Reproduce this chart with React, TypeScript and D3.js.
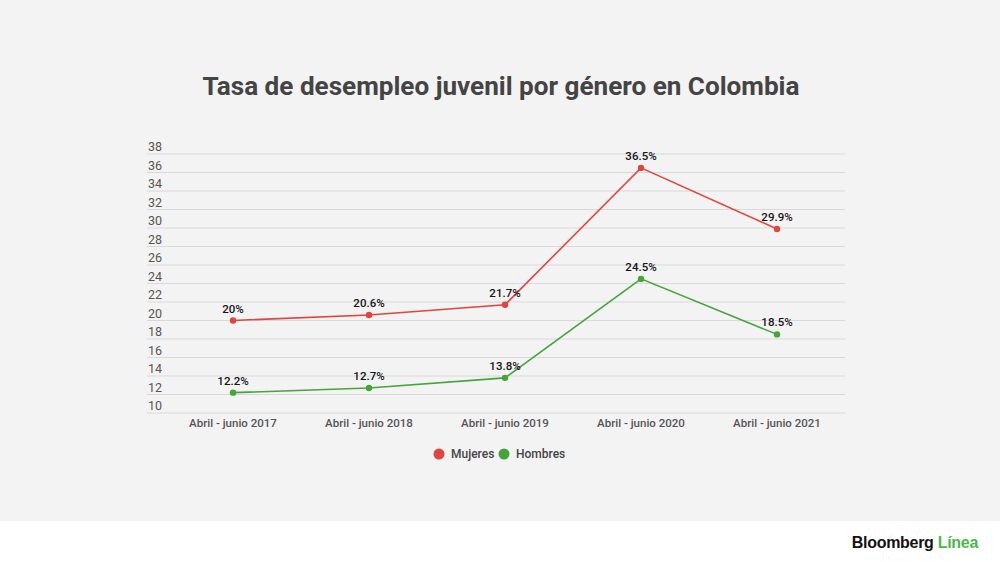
import React from "react";
import * as d3 from "d3";

const periods = [
  "Abril - junio 2017",
  "Abril - junio 2018",
  "Abril - junio 2019",
  "Abril - junio 2020",
  "Abril - junio 2021",
];
const mujeres = [20, 20.6, 21.7, 36.5, 29.9];
const hombres = [12.2, 12.7, 13.8, 24.5, 18.5];
const mujeresLabels = ["20%", "20.6%", "21.7%", "36.5%", "29.9%"];
const hombresLabels = ["12.2%", "12.7%", "13.8%", "24.5%", "18.5%"];
const yTicks = [10, 12, 14, 16, 18, 20, 22, 24, 26, 28, 30, 32, 34, 36, 38];

const RED = "#e0463f";
const GREEN = "#45a53b";

const App: React.FC = () => {
  const ref = React.useRef<SVGSVGElement>(null);

  React.useEffect(() => {
    const svg = d3.select(ref.current);
    svg.selectAll("*").remove();
    const W = 1000,
      H = 562;
    const font = "Roboto, sans-serif";

    svg.append("rect").attr("width", W).attr("height", 521).attr("fill", "#f3f3f3");
    svg.append("rect").attr("y", 521).attr("width", W).attr("height", H - 521).attr("fill", "#ffffff");

    svg
      .append("text")
      .attr("x", 501)
      .attr("y", 95)
      .attr("text-anchor", "middle")
      .attr("font-family", font)
      .attr("font-weight", 700)
      .attr("font-size", 26.1)
      .attr("fill", "#444444")
      .text("Tasa de desempleo juvenil por género en Colombia");

    const x = d3.scalePoint<string>().domain(periods).range([165, 845]).padding(0.5);
    const y = d3.scaleLinear().domain([10, 38]).range([413, 154]);

    const grid = svg.append("g");
    yTicks.forEach((t) => {
      grid
        .append("line")
        .attr("x1", 147)
        .attr("x2", 845)
        .attr("y1", y(t))
        .attr("y2", y(t))
        .attr("stroke", "#d9d9d9")
        .attr("stroke-width", 1);
      grid
        .append("text")
        .attr("x", 148)
        .attr("y", y(t) - 3)
        .attr("font-family", font)
        .attr("font-size", 12.5)
        .attr("fill", "#555555")
        .text(t);
    });

    periods.forEach((p) => {
      svg
        .append("text")
        .attr("x", x(p)!)
        .attr("y", 427)
        .attr("text-anchor", "middle")
        .attr("font-family", font)
        .attr("font-weight", 500)
        .attr("font-size", 11.5)
        .attr("fill", "#555555")
        .text(p);
    });

    const series = [
      { values: mujeres, labels: mujeresLabels, color: RED },
      { values: hombres, labels: hombresLabels, color: GREEN },
    ];

    series.forEach((s) => {
      const line = d3
        .line<number>()
        .x((_, i) => x(periods[i])!)
        .y((d) => y(d));
      svg
        .append("path")
        .datum(s.values)
        .attr("fill", "none")
        .attr("stroke", s.color)
        .attr("stroke-width", 1.6)
        .attr("d", line);
      svg
        .selectAll(null)
        .data(s.values)
        .enter()
        .append("circle")
        .attr("cx", (_, i) => x(periods[i])!)
        .attr("cy", (d) => y(d))
        .attr("r", 3.2)
        .attr("fill", s.color);
      svg
        .selectAll(null)
        .data(s.values)
        .enter()
        .append("text")
        .attr("x", (_, i) => x(periods[i])!)
        .attr("y", (d) => y(d) - 8)
        .attr("text-anchor", "middle")
        .attr("font-family", font)
        .attr("font-weight", 500)
        .attr("font-size", 11.5)
        .attr("fill", "#151515")
        .text((_, i) => s.labels[i]);
    });

    // legend
    const legend = [
      { name: "Mujeres", color: RED, cx: 439, tx: 451 },
      { name: "Hombres", color: GREEN, cx: 504, tx: 516 },
    ];
    legend.forEach((l) => {
      svg.append("circle").attr("cx", l.cx).attr("cy", 454).attr("r", 5.5).attr("fill", l.color);
      svg
        .append("text")
        .attr("x", l.tx)
        .attr("y", 458)
        .attr("font-family", font)
        .attr("font-weight", 500)
        .attr("font-size", 12)
        .attr("fill", "#444444")
        .text(l.name);
    });

    // logo
    const logo = svg
      .append("text")
      .attr("x", 978)
      .attr("y", 548)
      .attr("text-anchor", "end")
      .attr("font-family", "'Liberation Sans', Arial, sans-serif")
      .attr("font-weight", 700)
      .attr("font-size", 16)
      .attr("letter-spacing", -0.3);
    logo.append("tspan").attr("fill", "#111111").text("Bloomberg ");
    logo.append("tspan").attr("fill", "#4cb848").text("Línea");
  }, []);

  return (
    <svg
      ref={ref}
      width={1000}
      height={562}
      style={{ position: "absolute", left: 0, top: 0, display: "block" }}
    />
  );
};

export default App;
